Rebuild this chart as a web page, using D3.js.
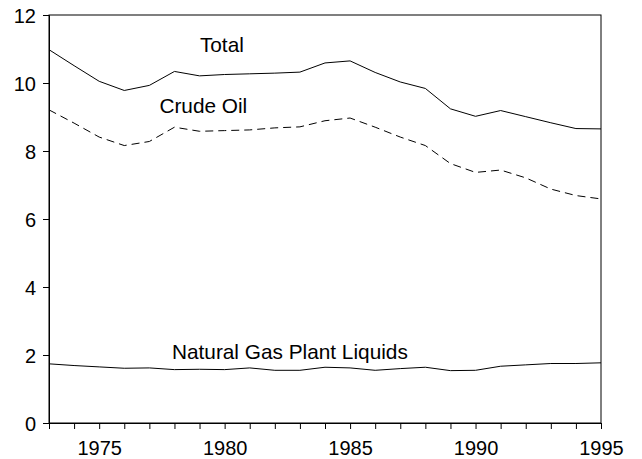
<!DOCTYPE html>
<html>
<head>
<meta charset="utf-8">
<script src="https://cdn.jsdelivr.net/npm/d3@7"></script>
<style>
  html, body { margin: 0; padding: 0; background: #fff; }
  svg { display: block; }
  text { font-family: "Liberation Sans", Arial, sans-serif; fill: #000; }
</style>
</head>
<body>
<svg id="chart" width="642" height="459"></svg>
<script>
// US petroleum liquids production, million barrels per day
const years = d3.range(1973, 1996);
const total = [10.98, 10.51, 10.05, 9.78, 9.93, 10.34, 10.21, 10.25, 10.27, 10.29, 10.32,
               10.59, 10.65, 10.31, 10.03, 9.84, 9.24, 9.02, 9.19, 9.01, 8.83, 8.66, 8.65];
const crudeOil = [9.21, 8.82, 8.41, 8.16, 8.28, 8.70, 8.58, 8.60, 8.62, 8.68, 8.71,
                  8.89, 8.97, 8.70, 8.41, 8.16, 7.63, 7.37, 7.44, 7.21, 6.88, 6.69, 6.59];
const ngpl = [1.74, 1.69, 1.65, 1.61, 1.62, 1.57, 1.58, 1.57, 1.62, 1.55, 1.55,
              1.64, 1.62, 1.55, 1.60, 1.64, 1.54, 1.55, 1.67, 1.71, 1.75, 1.75, 1.77];
const yTicks = [0, 2, 4, 6, 8, 10, 12];
const xLabelYears = [1975, 1980, 1985, 1990, 1995];

const series = [
  { name: "Total", values: total, dash: null, labelYear: 1979.89, labelValue: 10.90 },
  { name: "Crude Oil", values: crudeOil, dash: "8,5", labelYear: 1979.15, labelValue: 9.11 },
  { name: "Natural Gas Plant Liquids", values: ngpl, dash: null, labelYear: 1982.6, labelValue: 1.87 }
];

const svg = d3.select("#chart");
const margin = { left: 49, right: 41, top: 15, bottom: 36 };
const W = 642, H = 459;
const tickFont = 20, labelFont = 20.8;

const x = d3.scaleLinear().domain([1973, 1995]).range([margin.left, W - margin.right]);
const y = d3.scaleLinear().domain([0, 12]).range([H - margin.bottom, margin.top]);

// plot frame
svg.append("rect")
  .attr("x", x(1973)).attr("y", y(12))
  .attr("width", x(1995) - x(1973)).attr("height", y(0) - y(12))
  .attr("fill", "none").attr("stroke", "#000").attr("stroke-width", 1);

// x axis with a tick every year, labels every five years
const xAxis = d3.axisBottom(x)
  .tickValues(years)
  .tickSize(6)
  .tickFormat(d => xLabelYears.includes(d) ? String(d) : "");
const gx = svg.append("g")
  .attr("transform", `translate(0,${y(0)})`)
  .call(xAxis);
gx.select(".domain").attr("stroke", "#000");
gx.selectAll(".tick line").attr("stroke", "#000");
gx.selectAll(".tick text")
  .attr("font-size", tickFont).attr("font-family", "Liberation Sans, Arial, sans-serif")
  .attr("fill", "#000").attr("dy", null).attr("y", 32);

// y axis
const yAxis = d3.axisLeft(y).tickValues(yTicks).tickSize(6).tickFormat(d3.format("d"));
const gy = svg.append("g")
  .attr("transform", `translate(${x(1973)},0)`)
  .call(yAxis);
gy.select(".domain").attr("stroke", "#000");
gy.selectAll(".tick line").attr("stroke", "#000");
gy.selectAll(".tick text")
  .attr("font-size", tickFont).attr("font-family", "Liberation Sans, Arial, sans-serif")
  .attr("fill", "#000").attr("x", -13).attr("dy", "0.36em");

const line = d3.line()
  .x((d, i) => x(years[i]))
  .y(d => y(d));

series.forEach(s => {
  svg.append("path")
    .datum(s.values)
    .attr("d", line)
    .attr("fill", "none")
    .attr("stroke", "#000")
    .attr("stroke-width", 1)
    .attr("stroke-dasharray", s.dash);

  svg.append("text")
    .attr("x", x(s.labelYear))
    .attr("y", y(s.labelValue))
    .attr("text-anchor", "middle")
    .attr("font-size", labelFont)
    .text(s.name);
});
</script>
</body>
</html>
